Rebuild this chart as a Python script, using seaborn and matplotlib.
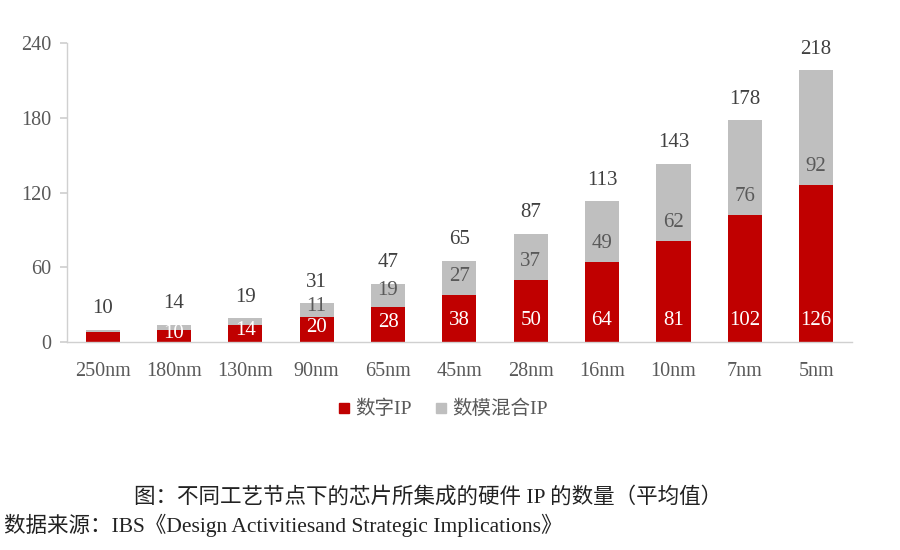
import matplotlib
matplotlib.use("Agg")
import matplotlib.pyplot as plt
import seaborn as sns
import pandas as pd
from matplotlib.lines import Line2D

nodes = ["250nm", "180nm", "130nm", "90nm", "65nm", "45nm", "28nm", "16nm", "10nm", "7nm", "5nm"]
digital = [8, 10, 14, 20, 28, 38, 50, 64, 81, 102, 126]
mixed = [2, 4, 5, 11, 19, 27, 37, 49, 62, 76, 92]
totals = [10, 14, 19, 31, 47, 65, 87, 113, 143, 178, 218]
yticks = [0, 60, 120, 180, 240]
legend_labels = ["数字IP", "数模混合IP"]
caption = "图：不同工艺节点下的芯片所集成的硬件 IP 的数量（平均值）"
source = "数据来源：IBS《Design Activitiesand Strategic Implications》"

RED = "#C00000"
GRAY = "#BFBFBF"
TXT = "#595959"

sns.set_theme(style="white")
plt.rcParams["font.family"] = ["Liberation Serif", "Noto Sans CJK SC"]

df = pd.DataFrame({"node": nodes, "digital": digital, "mixed": mixed, "total": totals})

fig = plt.figure(figsize=(9, 5.5), dpi=100)
ax = fig.add_axes([0.0744, 0.378, 0.872, 0.544])

sns.barplot(data=df, x="node", y="total", color=GRAY, saturation=1, width=0.48,
            linewidth=0, ax=ax)
sns.barplot(data=df, x="node", y="digital", color=RED, saturation=1, width=0.48,
            linewidth=0, ax=ax)

ax.set_ylim(0, 240)
ax.set_xlim(-0.5, 10.5)
ax.set_yticks(yticks)
ax.set_xlabel("")
ax.set_ylabel("")
for s in ["top", "right"]:
    ax.spines[s].set_visible(False)
for s in ["left", "bottom"]:
    ax.spines[s].set_color("#D0D0D0")
    ax.spines[s].set_linewidth(1.0)
ax.tick_params(axis="y", which="both", left=True, length=5, color="#D0D0D0",
               labelsize=14.5, labelcolor=TXT, pad=6)
ax.tick_params(axis="x", bottom=False, labelsize=14.5, labelcolor=TXT, pad=8)

red_patches = ax.containers[1]
for i, p in enumerate(red_patches):
    xc = p.get_x() + p.get_width() / 2
    d, m, t = digital[i], mixed[i], totals[i]
    if d >= 10:
        off = min(17, d * 0.5 + 2)
        ax.text(xc, off, str(d), ha="center", va="center", color="white", fontsize=15)
    if m >= 10:
        off = min(15, m * 0.6 + 2)
        ax.text(xc, d + off, str(m), ha="center", va="center", color=TXT, fontsize=15)
    ax.text(xc, t + 17, str(t), ha="center", va="center", color="#404040", fontsize=15)

handles = [Line2D([0], [0], marker="s", linestyle="", markersize=7.5, color=RED),
           Line2D([0], [0], marker="s", linestyle="", markersize=7.5, color=GRAY)]
fig.legend(handles, legend_labels, loc="center", bbox_to_anchor=(0.49, 0.256), ncol=2,
           frameon=False, fontsize=14, handletextpad=0.1, columnspacing=1.0,
           handlelength=1.0, labelcolor=TXT)

fig.text(0.476, 0.096, caption, ha="center", va="center", fontsize=15.5, color="#222222")
fig.text(0.005, 0.045, source, ha="left", va="center", fontsize=15.5, color="#222222")

fig.savefig("out.png", dpi=100, facecolor="white")
